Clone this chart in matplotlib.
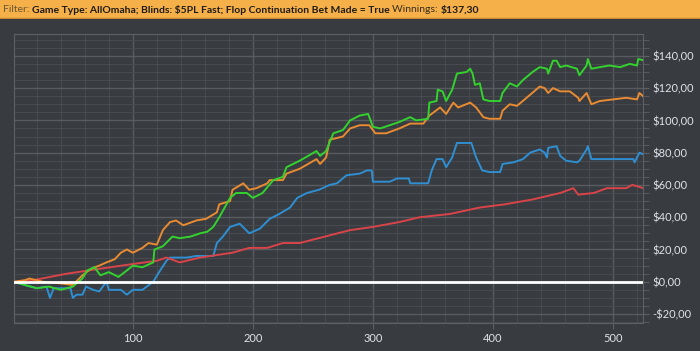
import numpy as np
import matplotlib.pyplot as plt
from matplotlib.ticker import MultipleLocator, FuncFormatter

# hands / winnings
green_x = [1, 10, 20, 30, 40, 50, 58, 62, 68, 73, 80, 88, 95, 100, 108, 117, 118, 125, 133, 139, 148, 156,
           162, 167, 172, 181, 186, 195, 200, 208, 217, 225, 228, 239, 246, 253, 256, 261, 267, 275, 281, 289,
           296, 300, 306, 314, 322, 331, 336, 346, 347, 353, 354, 358, 361, 366, 370, 378, 381, 383, 385, 389,
           392, 397, 406, 408, 414, 420, 425, 433, 439, 445, 446, 450, 453, 456, 461, 470, 472, 478, 479, 482,
           489, 497, 506, 514, 520, 521, 525]
green_y = [0, -2, -4, -3, -5, -3, 2, 7, 9, 4, 6, 3, 7, 10, 9, 12, 20, 22, 28, 27, 28, 30,
           31, 34, 40, 52, 55, 55, 52, 55, 63, 65, 71, 75, 78, 81, 78, 81, 92, 94, 100, 103,
           104, 96, 95, 97, 99, 102, 100, 101, 111, 112, 119, 118, 112, 119, 129, 130, 132, 129, 122, 123,
           113, 112, 112, 117, 123, 121, 125, 130, 133, 132, 129, 137, 137, 133, 134, 132, 128, 134, 138, 132,
           133, 134, 133, 135, 134, 138, 137.3]

orange_x = [1, 10, 14, 25, 40, 50, 58, 65, 72, 78, 85, 90, 95, 100, 108, 113, 120, 125, 131, 136, 142, 153,
             161, 170, 172, 181, 183, 192, 197, 203, 212, 214, 225, 228, 239, 253, 256, 261, 264, 275, 281,
             289, 297, 302, 311, 322, 331, 342, 347, 356, 361, 367, 371, 381, 386, 392, 397, 406, 408, 414,
             420, 428, 439, 443, 446, 450, 456, 464, 471, 472, 478, 482, 489, 500, 511, 520, 522, 525]
orange_y = [0, 1, 2, 0, -1, -2, 4, 8, 10, 12, 14, 18, 20, 18, 21, 24, 23, 32, 37, 38, 35, 38,
            39, 43, 48, 50, 57, 61, 57, 58, 61, 63, 63, 67, 70, 76, 73, 77, 88, 90, 95,
            97, 97, 92, 92, 95, 98, 98, 103, 108, 104, 111, 108, 111, 108, 102, 101, 101, 106, 110,
            109, 114, 121, 120, 117, 120, 118, 118, 114, 112, 117, 110, 112, 113, 114, 113, 117, 115]

blue_x = [1, 10, 20, 28, 31, 34, 48, 50, 53, 58, 61, 67, 72, 78, 80, 90, 95, 100, 108, 117, 121, 128,
          131, 145, 153, 167, 170, 175, 181, 189, 197, 206, 214, 222, 231, 237, 245, 255, 264, 270, 278,
          289, 295, 299, 300, 314, 320, 330, 331, 346, 349, 353, 358, 361, 366, 370, 382, 386, 391, 397,
          406, 408, 417, 425, 431, 439, 443, 445, 446, 453, 456, 461, 470, 472, 478, 479, 482, 517, 518,
          522, 525]
blue_y = [0, -2, -4, -3, -10, -4, -4, -10, -8, -8, -3, -5, -6, 0, -5, -5, -8, -5, -5, 0, 5, 13,
          15, 15, 16, 16, 24, 28, 34, 36, 30, 33, 39, 42, 46, 52, 55, 57, 60, 61, 66,
          67, 69, 69, 62, 62, 64, 64, 61, 61, 69, 76, 76, 71, 77, 86, 86, 77, 69, 68,
          68, 73, 74, 76, 80, 82, 80, 77, 83, 84, 78, 75, 74, 75, 82, 84, 76, 76, 74,
          80, 79]

red_x = [1, 17, 31, 45, 72, 100, 120, 128, 139, 156, 183, 197, 212, 225, 239, 260, 281, 300, 322, 339,
         364, 389, 410, 433, 456, 467, 471, 484, 495, 511, 516, 521, 525]
red_y = [0, 1, 3, 5, 8, 11, 13, 15, 12, 15, 18, 21, 21, 24, 24, 28, 32, 34, 37, 40,
         42, 46, 48, 51, 55, 58, 54, 55, 58, 58, 60, 59, 58]

series = [(blue_x, blue_y, '#2f8fd2'), (red_x, red_y, '#d9444a'),
          (orange_x, orange_y, '#e88b32'), (green_x, green_y, '#33d22e')]

bg = '#383b3f'
fig = plt.figure(figsize=(7, 3.51), dpi=100, facecolor=bg)
ax = fig.add_axes([0.02, 0.08, 0.8986, 0.823], facecolor=bg)

for xs, ys, c in series:
    ax.plot(xs, ys, color=c, lw=1.4, zorder=3)
ax.axhline(0, color='white', lw=2, zorder=4)

ax.set_xlim(1, 525)
ax.set_ylim(-25.5, 153.5)

ax.xaxis.set_major_locator(MultipleLocator(100))
ax.xaxis.set_minor_locator(MultipleLocator(20))
ax.yaxis.set_major_locator(MultipleLocator(20))
ax.yaxis.set_minor_locator(MultipleLocator(5))
ax.grid(which='major', color='#585c61', lw=1.0, zorder=0)
ax.grid(which='minor', color='#474a4f', lw=0.8, zorder=0)

def money(v, pos):
    s = '$%.2f' % abs(v)
    s = s.replace('.', ',')
    return '-' + s if v < 0 else s

ax.yaxis.set_major_formatter(FuncFormatter(money))
ax.yaxis.tick_right()
ax.tick_params(axis='y', which='both', colors='#5d6166', labelcolor='#dfe3e8', labelsize=8, length=4, pad=3)
ax.tick_params(axis='x', which='both', colors='#5d6166', labelcolor='#dfe3e8', labelsize=8, length=4, pad=3)
ax.tick_params(axis='x', which='minor', length=0)
ax.tick_params(axis='y', which='minor', length=4)
for lab in ax.get_xticklabels() + ax.get_yticklabels():
    lab.set_family('Lato')
for s in ax.spines.values():
    s.set_color('#5d6166')

# orange filter bar
hdr = fig.add_axes([0, 0.945, 1, 0.055])
hdr.set_xlim(0, 1)
hdr.set_ylim(0, 1)
hdr.axis('off')
hdr.add_patch(plt.Rectangle((0, 0), 1, 1, color='#f6b04a'))
hdr.add_patch(plt.Rectangle((0, 0), 1, 0.08, color='#c98a2e'))

parts = [('Filter: ', 'normal', '#6b5530'),
         ('Game Type: AllOmaha; Blinds: $5PL Fast; Flop Continuation Bet Made = True ', 'bold', '#1e1a14'),
         ('Winnings: ', 'normal', '#3a2e1c'),
         ('$137,30', 'bold', '#1e1a14')]

def put_header(size):
    fig.canvas.draw()
    r = fig.canvas.get_renderer()
    x = 3 / 700
    made = []
    for txt, w, c in parts:
        t = fig.text(x, 0.972, txt, fontsize=size, fontweight=w, color=c, va='center', ha='left',
                     family='Lato')
        made.append(t)
        x += t.get_window_extent(renderer=r).width / 700
    return made, x * 700

# fit text so it ends near x=477 px like the reference
made, end = put_header(8.5)
for t in made:
    t.remove()
put_header(8.5 * 474 / (end - 3))

fig.savefig('out.png', dpi=100, facecolor=bg)
